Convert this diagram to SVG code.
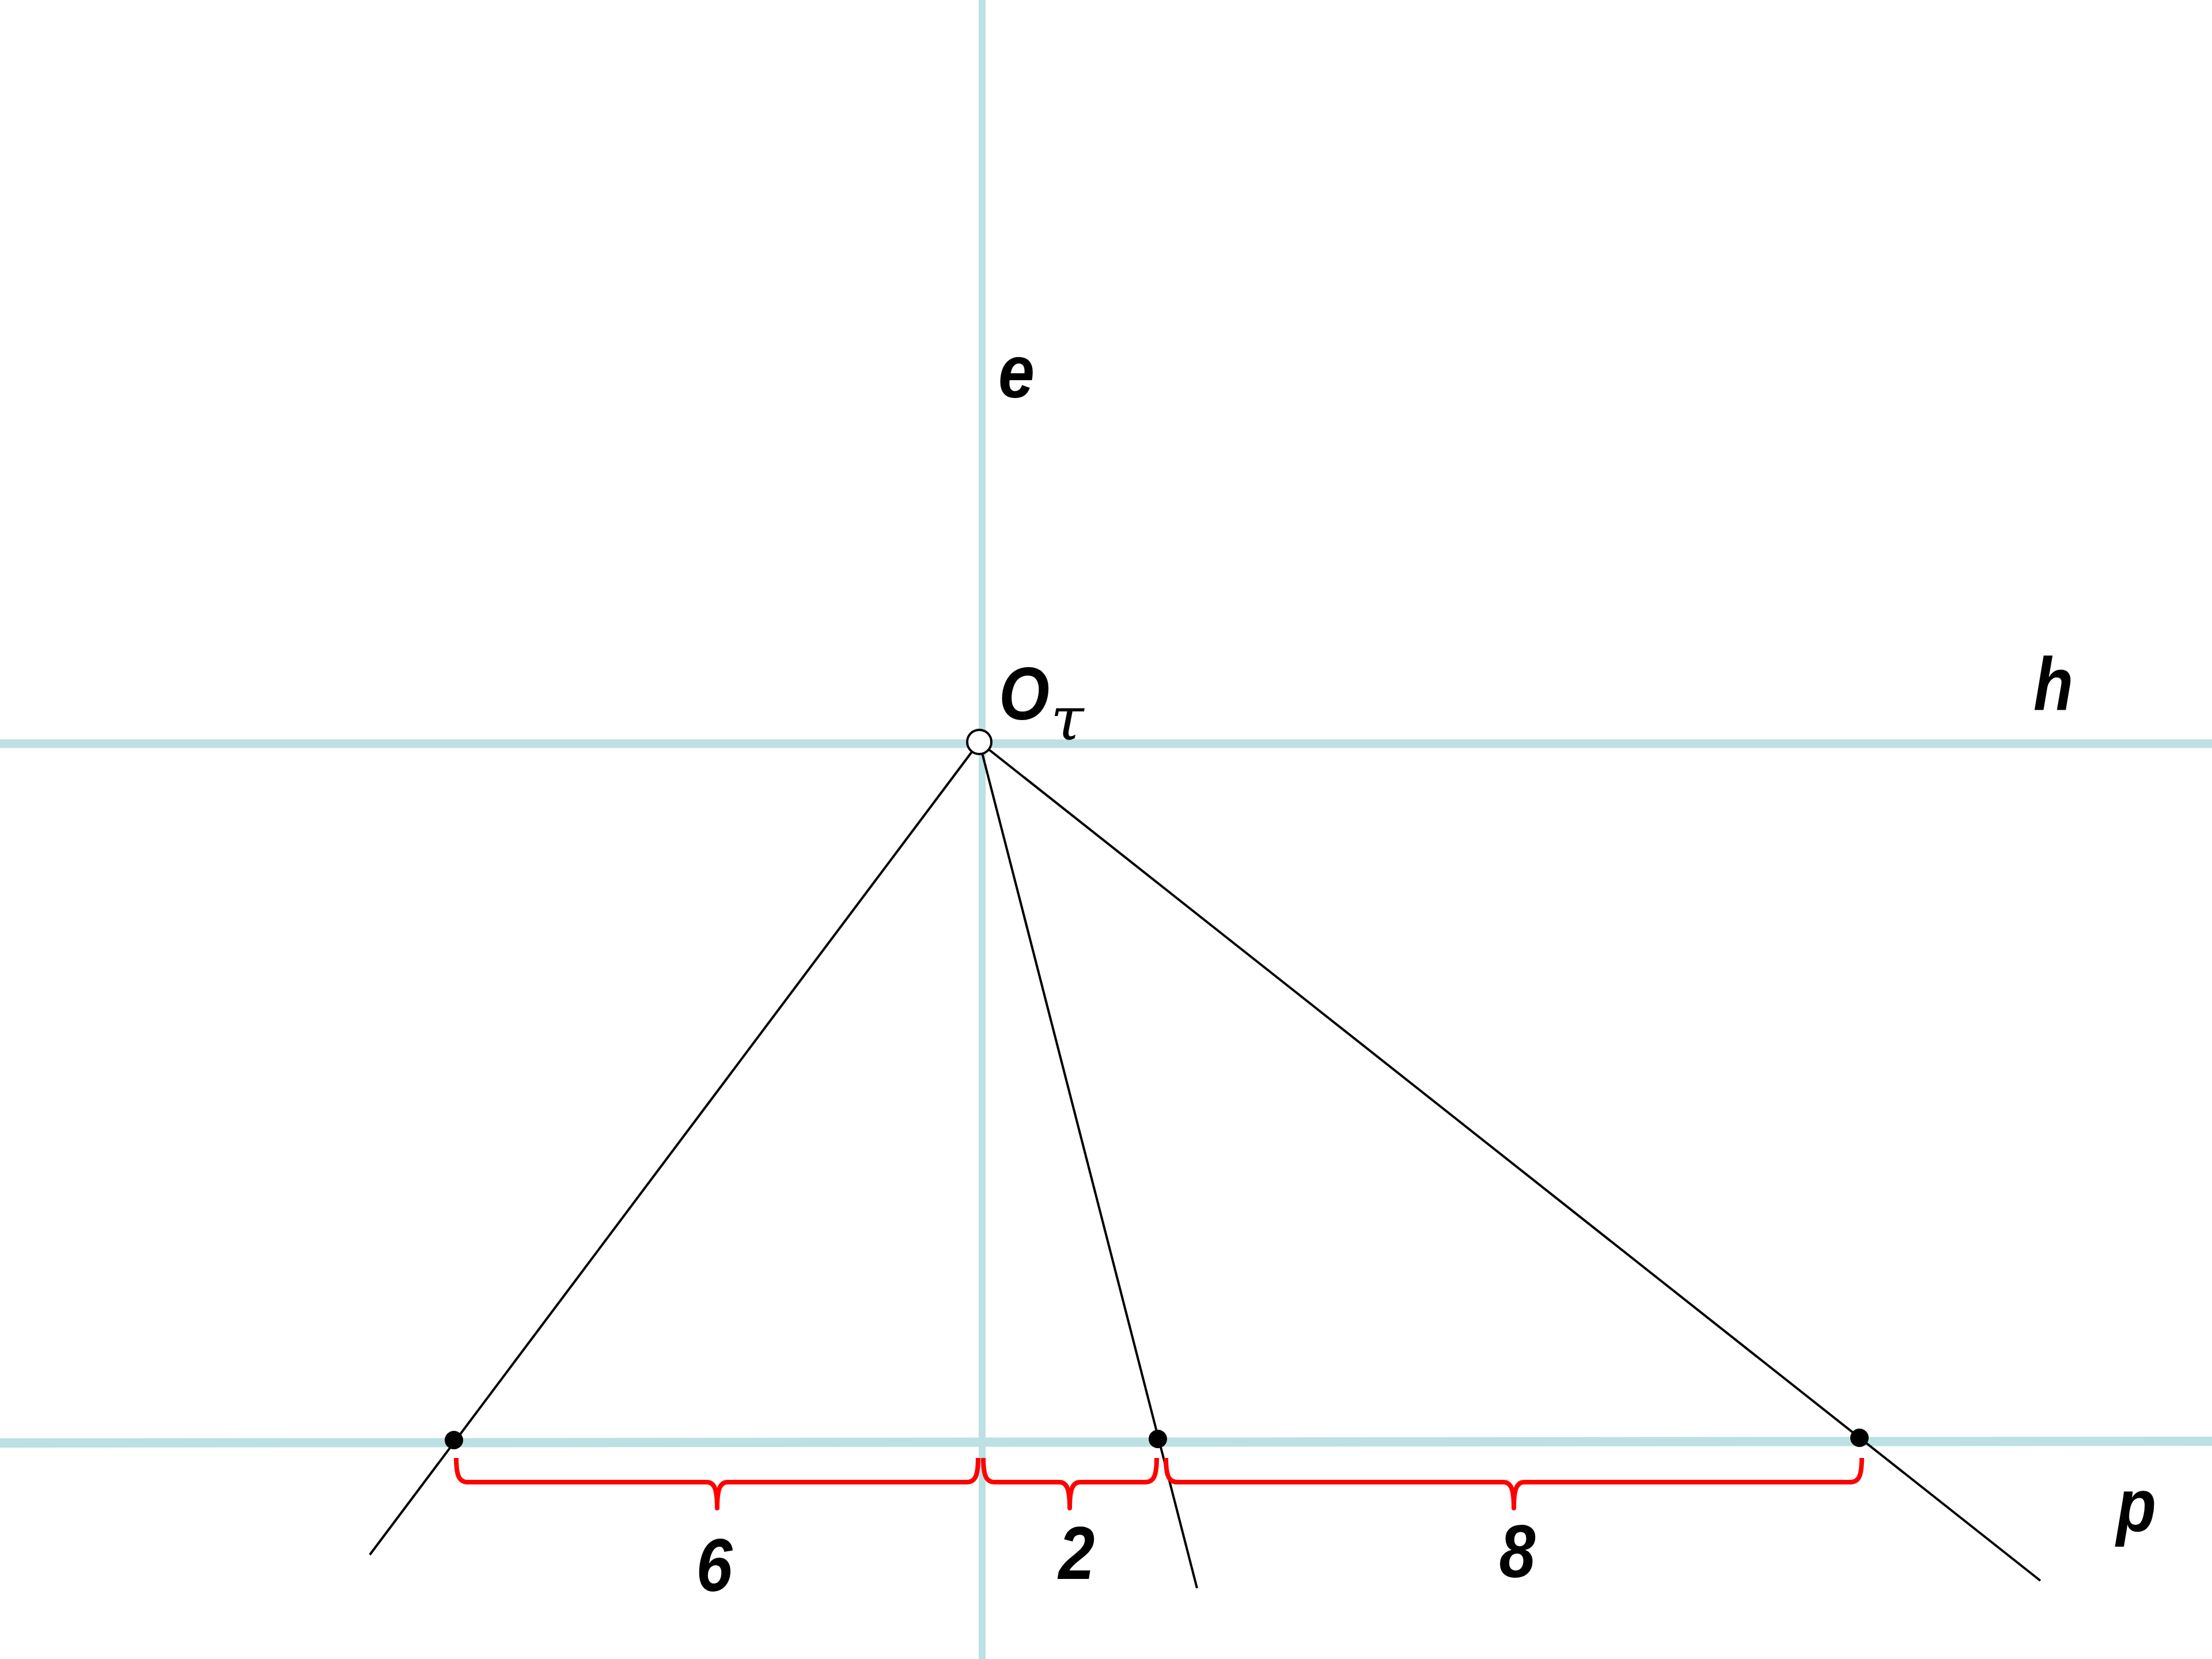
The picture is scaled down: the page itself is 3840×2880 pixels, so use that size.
<svg xmlns="http://www.w3.org/2000/svg" width="3840" height="2880" viewBox="0 0 3840 2880">
<style>
.axis{stroke:#BCE0E3;fill:none}
.ray{stroke:#000;stroke-width:4;fill:none}
.brace{stroke:#FF0000;stroke-width:8;fill:none;stroke-linecap:butt;stroke-linejoin:round}
.lbl{font-family:"Liberation Sans",Arial,sans-serif;font-weight:bold;font-style:italic;font-size:130px;fill:#000}
.sub{font-family:"DejaVu Serif","Liberation Serif",serif;font-style:italic;font-size:104px;fill:#000}
.dot{fill:#000}
</style>
<rect width="3840" height="2880" fill="#fff"/>
<g id="axes">
<line class="axis" x1="1705" y1="0" x2="1705" y2="2880" stroke-width="12"/>
<line class="axis" x1="0" y1="1291" x2="3840" y2="1291" stroke-width="15"/>
<line class="axis" x1="0" y1="2505" x2="3840" y2="2502" stroke-width="16"/>
</g>
<g id="connectors">
<line class="ray" x1="1700" y1="1288" x2="642" y2="2699"/>
<line class="ray" x1="1700" y1="1288" x2="2078" y2="2757"/>
<line class="ray" x1="1700" y1="1288" x2="3542" y2="2744"/>
</g>
<g id="braces">
<path id="brace-6" class="brace" d="M792,2531 C792,2562 797,2573 812,2573 L1227,2573 C1240,2573 1245,2585 1245,2618 C1245,2585 1250,2573 1263,2573 L1678,2573 C1693,2573 1698,2562 1698,2531"/>
<path id="brace-2" class="brace" d="M1707,2531 C1707,2562 1712,2573 1727,2573 L1839,2573 C1852,2573 1857,2585 1857,2618 C1857,2585 1862,2573 1875,2573 L1988,2573 C2003,2573 2008,2562 2008,2531"/>
<path id="brace-8" class="brace" d="M2024,2531 C2024,2562 2029,2573 2044,2573 L2610,2573 C2623,2573 2628,2585 2628,2618 C2628,2585 2633,2573 2646,2573 L3212,2573 C3227,2573 3232,2562 3232,2531"/>
</g>
<g id="node-O">
<circle cx="1700" cy="1288" r="21" fill="#fff" stroke="#000" stroke-width="4"/>
<text class="lbl" transform="translate(1734,1249) scale(0.87,1)">O</text>
<text class="sub" x="1824" y="1284">τ</text>
</g>
<g id="node-A"><circle class="dot" cx="788" cy="2500" r="16"/></g>
<g id="node-B"><circle class="dot" cx="2010" cy="2498" r="16"/></g>
<g id="node-C"><circle class="dot" cx="3228" cy="2496" r="16"/></g>
<g id="labels">
<text class="lbl" transform="translate(1733,690) scale(0.87,1)">e</text>
<text class="lbl" transform="translate(3530,1232) scale(0.87,1)">h</text>
<text class="lbl" transform="translate(3674,2658) scale(0.87,1)">p</text>
<text class="lbl" transform="translate(1240,2762) scale(0.87,1)" text-anchor="middle">6</text>
<text class="lbl" transform="translate(1869,2741) scale(0.87,1)" text-anchor="middle">2</text>
<text class="lbl" transform="translate(2634,2738) scale(0.87,1)" text-anchor="middle">8</text>
</g>
</svg>
